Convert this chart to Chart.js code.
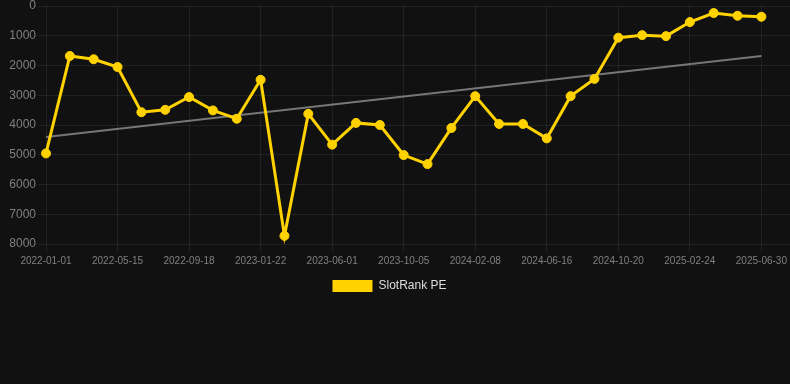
<!DOCTYPE html>
<html>
<head>
<meta charset="utf-8">
<script src="https://cdn.jsdelivr.net/npm/chart.js@4/dist/chart.umd.min.js"></script>
<style>
  html, body { margin: 0; padding: 0; background: #111111; }
  #wrap { width: 790px; height: 302px; position: relative; }
</style>
</head>
<body>
<div id="wrap"><canvas id="chart-rank"></canvas></div>
<script>
var dates = [
  "2022-01-01", "2022-02-14", "2022-03-30", "2022-05-15", "2022-06-25", "2022-08-06",
  "2022-09-18", "2022-10-30", "2022-12-11", "2023-01-22", "2023-03-05", "2023-04-18",
  "2023-06-01", "2023-07-13", "2023-08-24", "2023-10-05", "2023-11-16", "2023-12-28",
  "2024-02-08", "2024-03-21", "2024-05-04", "2024-06-16", "2024-07-28", "2024-09-08",
  "2024-10-20", "2024-12-01", "2025-01-12", "2025-02-24", "2025-04-07", "2025-05-19",
  "2025-06-30"
];
var rankPE = [
  4955, 1680, 1790, 2050, 3570, 3490, 3060, 3510, 3790, 2480, 7725,
  3625, 4660, 3930, 4000, 5010, 5315, 4100, 3030, 3965, 3965, 4450,
  3030, 2450, 1065, 980, 1013, 540, 236, 328, 361
];
var trendStart = 4400;
var trendEnd = 1680;
var yTicks = [0, 1000, 2000, 3000, 4000, 5000, 6000, 7000, 8000];

var rankPoints = rankPE.map(function (v, i) { return { x: i, y: v }; });
var trendPoints = [
  { x: 0, y: trendStart },
  { x: dates.length - 1, y: trendEnd },
];

// nudge the legend a little left, as in the original
var legendShift = {
  id: "legendShift",
  afterLayout: function (chart) {
    if (chart.legend) chart.legend.right -= 11;
  },
};

var ctx = document.getElementById("chart-rank").getContext("2d");

new Chart(ctx, {
  type: "line",
  plugins: [legendShift],
  data: {
    datasets: [
      {
        label: "SlotRank PE",
        data: rankPoints,
        borderColor: "#ffd200",
        backgroundColor: "#ffd200",
        borderWidth: 3,
        pointRadius: 4.5,
        pointBorderWidth: 1,
        pointHoverRadius: 5,
        tension: 0,
        clip: false,
      },
      {
        label: "trend",
        data: trendPoints,
        borderColor: "#777777",
        borderWidth: 2,
        pointRadius: 0,
        tension: 0,
      },
    ],
  },
  options: {
    responsive: true,
    maintainAspectRatio: false,
    animation: false,
    layout: {
      autoPadding: false,
      padding: 0,
    },
    plugins: {
      legend: {
        display: true,
        position: "bottom",
        labels: {
          color: "#dddddd",
          boxWidth: 40,
          boxHeight: 12,
          font: { size: 12, family: "Liberation Sans" },
          filter: function (item) {
            item.lineWidth = 0;
            return item.text !== "trend";
          },
        },
      },
      tooltip: { enabled: false },
    },
    scales: {
      x: {
        type: "linear",
        min: 0,
        max: 31.2,
        grid: {
          color: "rgba(255,255,255,0.07)",
          drawTicks: true,
        },
        border: { display: false },
        afterBuildTicks: function (scale) {
          // one tick every third date
          scale.ticks = dates
            .map(function (d, i) { return { value: i }; })
            .filter(function (t) { return t.value % 3 === 0; });
        },
        afterFit: function (scale) {
          scale.paddingRight = 0;
        },
        ticks: {
          autoSkip: false,
          maxRotation: 0,
          color: "#808080",
          font: { size: 10, family: "Liberation Sans" },
          callback: function (value) {
            return dates[value];
          },
        },
      },
      y: {
        reverse: true,
        min: yTicks[0],
        max: yTicks[yTicks.length - 1],
        afterFit: function (scale) {
          scale.width = 46;
          scale.paddingTop = 6;
        },
        grid: {
          color: "rgba(255,255,255,0.07)",
        },
        border: { display: false },
        ticks: {
          stepSize: 1000,
          padding: 2,
          color: "#808080",
          font: { size: 12, family: "Liberation Sans" },
          callback: function (value) {
            return String(value);
          },
        },
      },
    },
  },
});
</script>
</body>
</html>
